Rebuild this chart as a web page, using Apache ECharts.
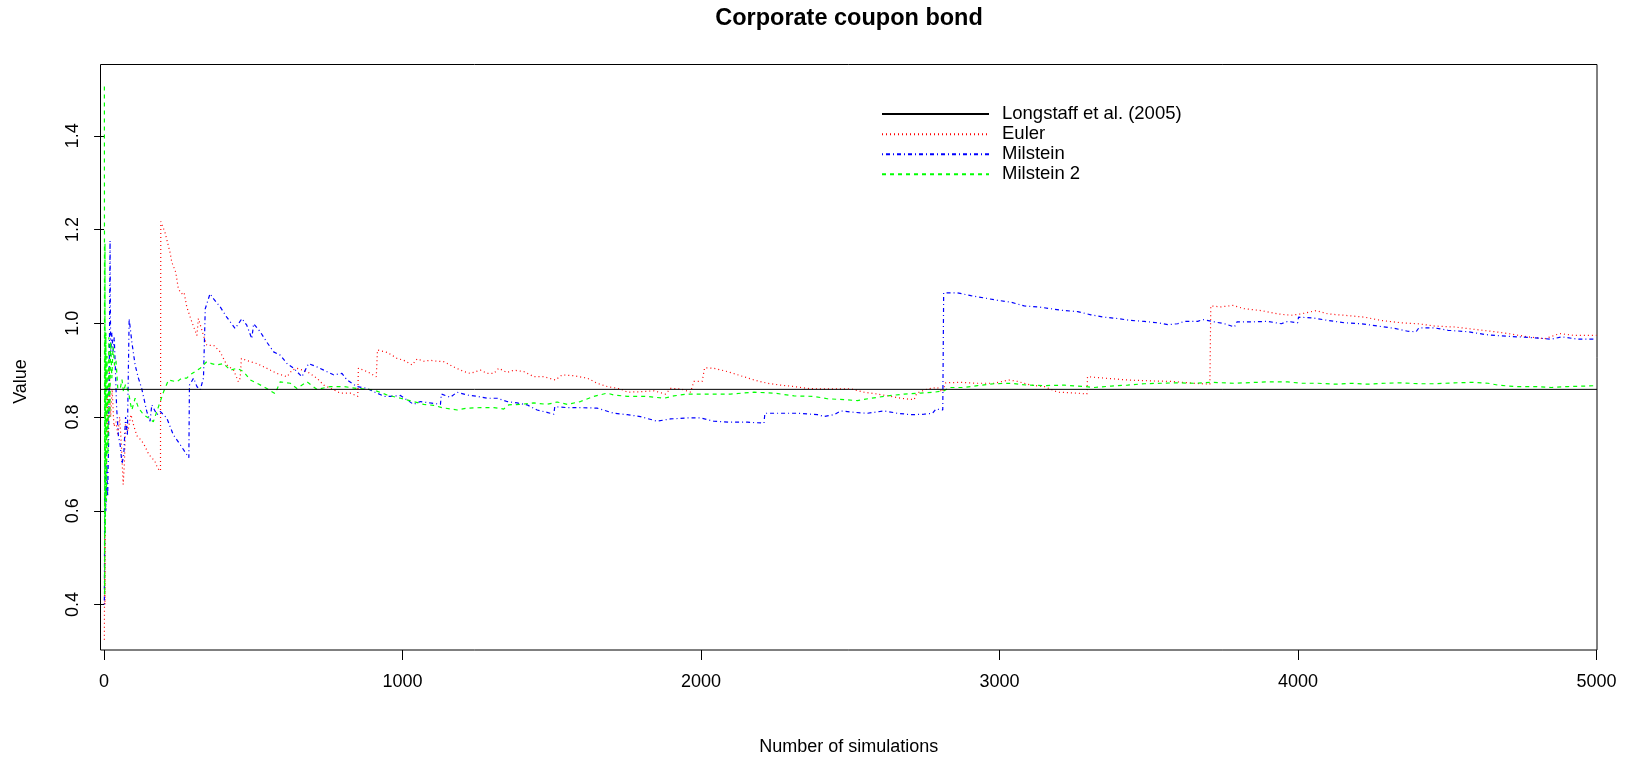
<!DOCTYPE html>
<html>
<head>
<meta charset="utf-8">
<script src="https://cdn.jsdelivr.net/npm/echarts@6/dist/echarts.min.js"></script>
<style>
  html, body { margin: 0; padding: 0; background: #ffffff; }
  #chart { width: 1630px; height: 761px; }
</style>
</head>
<body>
<div id="chart"></div>
<script>
// Running Monte Carlo estimates of the corporate coupon bond value, [simulations, value]
const euler = [[1,0.325],[2,0.55],[3,0.40],[5,0.62],[8,0.67],[11,0.85],[14,0.76],[18,0.90],[22,0.80],[27,0.86],[33,0.78],[40,0.79],[46,0.76],[52,0.80],[58,0.74],[64,0.656],[68,0.70],[72,0.79],[80,0.77],[90,0.805],[100,0.78],[110,0.76],[125,0.75],[135,0.74],[150,0.72],[160,0.713],[170,0.706],[180,0.69],[189,0.685],[190,1.217],[204,1.194],[221,1.151],[227,1.13],[240,1.109],[249,1.073],[260,1.063],[268,1.066],[277,1.035],[294,1.003],[311,0.974],[316,1.01],[322,1.01],[333,0.974],[344,0.953],[367,0.953],[389,0.939],[411,0.911],[434,0.90],[450,0.875],[456,0.883],[460,0.925],[490,0.918],[512,0.914],[545,0.904],[579,0.893],[613,0.886],[630,0.90],[646,0.904],[680,0.897],[713,0.883],[736,0.868],[769,0.858],[791,0.851],[825,0.851],[850,0.844],[852,0.904],[881,0.897],[912,0.886],[916,0.943],[948,0.938],[982,0.925],[1004,0.921],[1032,0.911],[1049,0.924],[1071,0.919],[1093,0.921],[1116,0.919],[1138,0.918],[1171,0.907],[1205,0.897],[1227,0.893],[1261,0.900],[1283,0.893],[1306,0.893],[1322,0.904],[1350,0.895],[1373,0.900],[1406,0.897],[1440,0.886],[1473,0.886],[1512,0.879],[1535,0.890],[1574,0.888],[1619,0.883],[1652,0.872],[1686,0.865],[1730,0.860],[1753,0.853],[1797,0.854],[1842,0.856],[1881,0.849],[1898,0.861],[1932,0.860],[1965,0.853],[1976,0.876],[2004,0.876],[2012,0.905],[2043,0.904],[2088,0.897],[2133,0.888],[2178,0.879],[2222,0.872],[2267,0.868],[2312,0.865],[2356,0.861],[2401,0.860],[2435,0.860],[2502,0.860],[2546,0.853],[2591,0.849],[2636,0.844],[2669,0.840],[2714,0.837],[2723,0.851],[2759,0.860],[2792,0.863],[2809,0.853],[2820,0.873],[2870,0.874],[2926,0.872],[2982,0.872],[3032,0.879],[3061,0.876],[3105,0.868],[3150,0.865],[3195,0.853],[3262,0.851],[3293,0.849],[3295,0.886],[3351,0.883],[3429,0.879],[3508,0.877],[3575,0.876],[3653,0.872],[3705,0.870],[3708,1.037],[3742,1.035],[3782,1.038],[3821,1.031],[3877,1.027],[3933,1.020],[3977,1.017],[4011,1.020],[4061,1.027],[4100,1.020],[4156,1.017],[4223,1.013],[4279,1.006],[4346,1.001],[4402,0.999],[4458,0.994],[4525,0.992],[4592,0.987],[4659,0.982],[4704,0.978],[4771,0.971],[4827,0.967],[4877,0.978],[4927,0.974],[5000,0.974]];

const milstein = [[1,0.40],[2,0.62],[4,0.73],[6,0.60],[9,0.70],[12,0.63],[15,0.74],[18,0.95],[20,1.176],[22,0.93],[26,0.98],[30,0.94],[34,0.97],[38,0.90],[42,0.82],[48,0.76],[54,0.74],[60,0.70],[66,0.72],[72,0.80],[78,0.76],[84,1.01],[93,0.96],[104,0.911],[115,0.883],[126,0.861],[143,0.812],[154,0.791],[160,0.826],[177,0.805],[188,0.812],[210,0.798],[232,0.762],[255,0.741],[277,0.72],[284,0.713],[286,0.868],[300,0.883],[311,0.865],[322,0.858],[333,0.883],[339,1.031],[355,1.063],[367,1.052],[389,1.035],[411,1.013],[439,0.989],[462,1.01],[478,0.996],[495,0.967],[501,0.999],[523,0.982],[545,0.96],[568,0.939],[590,0.932],[613,0.914],[635,0.904],[663,0.886],[685,0.914],[713,0.907],[736,0.90],[769,0.89],[797,0.893],[814,0.879],[847,0.865],[881,0.861],[914,0.851],[940,0.844],[959,0.844],[993,0.846],[1037,0.827],[1060,0.833],[1093,0.830],[1127,0.827],[1130,0.849],[1160,0.842],[1183,0.853],[1216,0.847],[1250,0.844],[1283,0.840],[1317,0.840],[1350,0.833],[1384,0.830],[1417,0.826],[1451,0.815],[1484,0.810],[1507,0.806],[1510,0.822],[1552,0.820],[1596,0.820],[1652,0.819],[1708,0.808],[1753,0.805],[1797,0.801],[1853,0.791],[1898,0.796],[1954,0.798],[1999,0.798],[2043,0.791],[2099,0.789],[2155,0.789],[2211,0.787],[2214,0.808],[2267,0.808],[2323,0.808],[2390,0.805],[2412,0.801],[2446,0.805],[2468,0.813],[2513,0.810],[2558,0.808],[2613,0.813],[2658,0.808],[2703,0.805],[2748,0.806],[2776,0.808],[2787,0.817],[2810,0.815],[2813,1.065],[2859,1.065],[2904,1.059],[2949,1.054],[2993,1.049],[3038,1.045],[3083,1.037],[3128,1.035],[3172,1.031],[3217,1.027],[3262,1.025],[3306,1.018],[3351,1.013],[3396,1.010],[3441,1.006],[3485,1.004],[3530,1.001],[3564,0.997],[3597,0.999],[3619,1.004],[3664,1.004],[3681,1.008],[3720,1.003],[3754,0.999],[3787,0.992],[3796,1.003],[3843,1.003],[3899,1.004],[3944,0.999],[3966,1.004],[3999,1.001],[4002,1.013],[4055,1.011],[4100,1.006],[4156,1.001],[4212,0.999],[4268,0.994],[4324,0.989],[4368,0.983],[4396,0.982],[4405,0.990],[4458,0.990],[4503,0.985],[4570,0.982],[4626,0.976],[4681,0.973],[4737,0.971],[4793,0.969],[4849,0.966],[4883,0.971],[4939,0.966],[5000,0.966]];

const milstein2 = [[1,1.505],[2,0.42],[3,1.17],[4,0.55],[6,0.98],[8,0.62],[10,0.93],[13,0.72],[16,0.97],[19,0.80],[22,0.96],[26,0.883],[30,0.95],[35,0.91],[40,0.92],[46,0.86],[54,0.86],[60,0.88],[65,0.854],[72,0.87],[82,0.854],[88,0.83],[93,0.815],[98,0.819],[104,0.84],[115,0.82],[132,0.805],[149,0.798],[154,0.80],[165,0.79],[177,0.812],[188,0.833],[200,0.855],[216,0.879],[244,0.875],[260,0.883],[277,0.883],[288,0.89],[305,0.897],[322,0.904],[344,0.918],[360,0.914],[378,0.911],[400,0.914],[423,0.90],[445,0.904],[467,0.897],[490,0.879],[512,0.872],[534,0.865],[573,0.85],[590,0.875],[624,0.872],[646,0.861],[680,0.875],[713,0.859],[758,0.865],[803,0.865],[847,0.861],[903,0.858],[948,0.847],[993,0.840],[1037,0.833],[1071,0.827],[1104,0.825],[1132,0.820],[1183,0.815],[1216,0.819],[1261,0.820],[1306,0.820],[1339,0.817],[1356,0.826],[1395,0.827],[1440,0.830],[1484,0.827],[1518,0.832],[1552,0.827],[1596,0.833],[1641,0.844],[1686,0.851],[1708,0.847],[1753,0.844],[1820,0.844],[1876,0.840],[1909,0.845],[1954,0.849],[1999,0.849],[2043,0.849],[2099,0.849],[2178,0.853],[2245,0.851],[2312,0.845],[2379,0.844],[2423,0.839],[2479,0.837],[2524,0.835],[2569,0.840],[2625,0.845],[2680,0.849],[2736,0.851],[2781,0.853],[2815,0.856],[2831,0.863],[2882,0.863],[2926,0.867],[2982,0.871],[3038,0.872],[3094,0.868],[3150,0.867],[3217,0.868],[3284,0.865],[3318,0.863],[3374,0.866],[3429,0.868],[3485,0.871],[3541,0.872],[3597,0.873],[3653,0.872],[3709,0.874],[3787,0.872],[3899,0.875],[3966,0.875],[4011,0.872],[4067,0.872],[4123,0.870],[4178,0.872],[4234,0.870],[4290,0.872],[4346,0.873],[4402,0.871],[4458,0.871],[4525,0.873],[4592,0.874],[4637,0.872],[4670,0.868],[4726,0.865],[4793,0.865],[4849,0.863],[4905,0.865],[4961,0.866],[5000,0.867]];

// Closed-form benchmark value
const longstaffValue = 0.859;

const seriesNames = ['Longstaff et al. (2005)', 'Euler', 'Milstein', 'Milstein 2'];
const xTicks = [0, 1000, 2000, 3000, 4000, 5000];
const yTicks = [0.4, 0.6, 0.8, 1.0, 1.2, 1.4];

// Plot ranges (R-style padding around the data)
const xRange = [-12, 5002];
const yRange = [0.303, 1.552];

const FONT = '"Liberation Sans", Arial, Helvetica, sans-serif';

const chart = echarts.init(document.getElementById('chart'), null, { renderer: 'canvas' });

function lineSeries(name, data, color, dash, z, width) {
  return {
    name: name,
    type: 'line',
    data: data,
    symbol: 'none',
    showSymbol: false,
    smooth: false,
    animation: false,
    silent: true,
    z: z,
    lineStyle: { color: color, width: width, type: dash, cap: 'butt' },
    itemStyle: { color: color }
  };
}

chart.setOption({
  animation: false,
  backgroundColor: '#ffffff',
  title: {
    text: 'Corporate coupon bond',
    left: 849,
    top: 7,
    padding: 0,
    textAlign: 'center',
    textStyle: { fontFamily: FONT, fontSize: 23.5, fontWeight: 'bold', color: '#000000' }
  },
  // Legend without a frame; a near-zero item height keeps only the line sample
  legend: {
    orient: 'vertical',
    left: 881,
    top: 104,
    padding: 0,
    itemWidth: 107,
    itemHeight: 0.01,
    itemGap: 0,
    data: seriesNames,
    selectedMode: false,
    textStyle: { fontFamily: FONT, fontSize: 18.5, color: '#000000', lineHeight: 20.1, padding: [0, 0, 0, 8] }
  },
  grid: {
    left: 100.5,
    right: 33,
    top: 64.5,
    bottom: 108,
    show: true,
    borderColor: '#000000',
    borderWidth: 1,
    backgroundColor: 'transparent'
  },
  graphic: [{
    type: 'text',
    x: 21,
    y: 381.5,
    rotation: Math.PI / 2,
    silent: true,
    style: { text: 'Value', fontFamily: FONT, fontSize: 18, fill: '#000000', align: 'center', verticalAlign: 'middle' }
  }],
  xAxis: {
    type: 'value',
    min: xRange[0],
    max: xRange[1],
    name: 'Number of simulations',
    nameLocation: 'middle',
    nameGap: 88,
    nameTextStyle: { fontFamily: FONT, fontSize: 18, color: '#000000' },
    axisLine: { show: false },
    splitLine: { show: false },
    axisTick: { show: true, length: 10, lineStyle: { color: '#000000', width: 1 }, customValues: xTicks },
    axisLabel: { show: true, margin: 23, fontFamily: FONT, fontSize: 18, color: '#000000', customValues: xTicks,
                 formatter: v => String(v) }
  },
  yAxis: {
    type: 'value',
    min: yRange[0],
    max: yRange[1],
    axisLine: { show: false },
    splitLine: { show: false },
    axisTick: { show: true, length: 10, lineStyle: { color: '#000000', width: 1 }, customValues: yTicks },
    axisLabel: { show: true, rotate: 90, margin: 18, fontFamily: FONT, fontSize: 18, color: '#000000', customValues: yTicks,
                 formatter: v => v.toFixed(1) }
  },
  series: [
    lineSeries('Euler', euler, '#ff0000', [1, 3], 2, 1.2),
    lineSeries('Milstein', milstein, '#0000ff', [1, 3, 4, 3], 3, 1.2),
    lineSeries('Milstein 2', milstein2, '#00ff00', [4, 4], 4, 1.2),
    lineSeries('Longstaff et al. (2005)', [[xRange[0], longstaffValue], [xRange[1], longstaffValue]], '#000000', 'solid', 5, 1)
  ]
});
</script>
</body>
</html>
